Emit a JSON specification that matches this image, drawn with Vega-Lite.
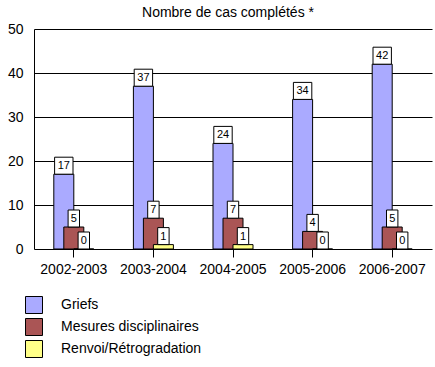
{
  "$schema": "https://vega.github.io/schema/vega-lite/v6.json",
  "autosize": "none",
  "width": 398,
  "height": 220,
  "padding": {"left": 34, "top": 29, "right": 3, "bottom": 118},
  "config": {
    "view": {"stroke": null},
    "font": "Liberation Sans"
  },
  "title": {
    "text": "Nombre de cas complétés *",
    "fontSize": 14,
    "fontWeight": "normal",
    "font": "Liberation Sans",
    "color": "black",
    "offset": 2,
    "dx": -5
  },
  "data": {
    "values": [
      {"annee": "2002-2003", "type": "Griefs", "cas": 17},
      {"annee": "2002-2003", "type": "Mesures disciplinaires", "cas": 5},
      {"annee": "2002-2003", "type": "Renvoi/Rétrogradation", "cas": 0},
      {"annee": "2003-2004", "type": "Griefs", "cas": 37},
      {"annee": "2003-2004", "type": "Mesures disciplinaires", "cas": 7},
      {"annee": "2003-2004", "type": "Renvoi/Rétrogradation", "cas": 1},
      {"annee": "2004-2005", "type": "Griefs", "cas": 24},
      {"annee": "2004-2005", "type": "Mesures disciplinaires", "cas": 7},
      {"annee": "2004-2005", "type": "Renvoi/Rétrogradation", "cas": 1},
      {"annee": "2005-2006", "type": "Griefs", "cas": 34},
      {"annee": "2005-2006", "type": "Mesures disciplinaires", "cas": 4},
      {"annee": "2005-2006", "type": "Renvoi/Rétrogradation", "cas": 0},
      {"annee": "2006-2007", "type": "Griefs", "cas": 42},
      {"annee": "2006-2007", "type": "Mesures disciplinaires", "cas": 5},
      {"annee": "2006-2007", "type": "Renvoi/Rétrogradation", "cas": 0}
    ]
  },
  "encoding": {
    "x": {
      "field": "annee",
      "type": "nominal",
      "scale": {"paddingInner": 0, "paddingOuter": 0},
      "axis": {
        "title": null,
        "labelAngle": 0,
        "labelFontSize": 14,
        "labelColor": "black",
        "labelFont": "Liberation Sans",
        "tickColor": "black",
        "tickSize": 8,
        "labelPadding": 5,
        "domain": false,
        "grid": false
      }
    },
    "xOffset": {
      "field": "type",
      "type": "nominal",
      "sort": ["Griefs", "Mesures disciplinaires", "Renvoi/Rétrogradation"],
      "scale": {"type": "band", "paddingInner": 0, "paddingOuter": 0, "range": [24.8, 54.8]}
    },
    "y": {
      "field": "cas",
      "type": "quantitative",
      "scale": {"domain": [0, 50]},
      "axis": {
        "title": null,
        "values": [0, 10, 20, 30, 40, 50],
        "ticks": false,
        "labelPadding": 11,
        "labelFontSize": 14,
        "labelColor": "black",
        "labelFont": "Liberation Sans",
        "gridColor": "black",
        "gridOpacity": 1,
        "domainColor": "black"
      }
    }
  },
  "layer": [
    {
      "mark": {"type": "bar", "width": 20, "stroke": "black", "strokeWidth": 1},
      "encoding": {
        "color": {
          "field": "type",
          "type": "nominal",
          "sort": ["Griefs", "Mesures disciplinaires", "Renvoi/Rétrogradation"],
          "scale": {
            "domain": ["Griefs", "Mesures disciplinaires", "Renvoi/Rétrogradation"],
            "range": ["#AAAAFF", "#AA5555", "#FFFF88"]
          },
          "legend": {
            "title": null,
            "orient": "none",
            "legendX": -9,
            "legendY": 267,
            "direction": "vertical",
            "symbolType": "square",
            "symbolSize": 289,
            "symbolStrokeColor": "black",
            "symbolStrokeWidth": 1,
            "symbolOpacity": 1,
            "labelFontSize": 14,
            "labelColor": "black",
            "labelFont": "Liberation Sans",
            "labelOffset": 18,
            "rowPadding": 0
          }
        }
      }
    },
    {
      "transform": [{"filter": "datum.cas >= 10"}],
      "mark": {
        "type": "point",
        "shape": "M-0.92,-1.7H0.92V0H-0.92Z",
        "size": 400,
        "filled": true,
        "fill": "white",
        "stroke": "black",
        "strokeWidth": 1,
        "opacity": 1
      }
    },
    {
      "transform": [{"filter": "datum.cas < 10"}],
      "mark": {
        "type": "point",
        "shape": "M-0.57,-1.7H0.57V0H-0.57Z",
        "size": 400,
        "filled": true,
        "fill": "white",
        "stroke": "black",
        "strokeWidth": 1,
        "opacity": 1
      }
    },
    {
      "mark": {
        "type": "text",
        "baseline": "middle",
        "dy": -8,
        "fontSize": 11,
        "font": "Liberation Sans",
        "color": "black"
      },
      "encoding": {"text": {"field": "cas", "type": "quantitative"}}
    }
  ]
}
